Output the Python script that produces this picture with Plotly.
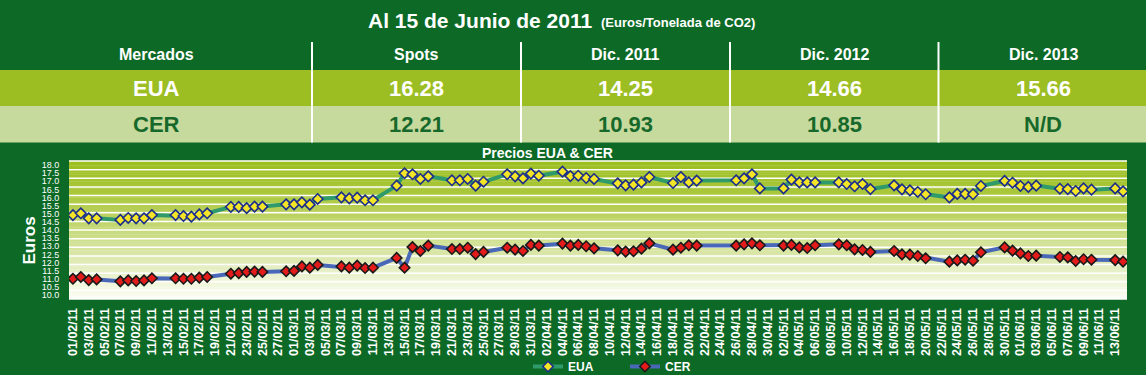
import plotly.graph_objects as go

# ---------------- data ----------------
dates = [
    "2011-02-01", "2011-02-02", "2011-02-03", "2011-02-04",
    "2011-02-07", "2011-02-08", "2011-02-09", "2011-02-10", "2011-02-11",
    "2011-02-14", "2011-02-15", "2011-02-16", "2011-02-17", "2011-02-18",
    "2011-02-21", "2011-02-22", "2011-02-23", "2011-02-24", "2011-02-25",
    "2011-02-28", "2011-03-01", "2011-03-02", "2011-03-03", "2011-03-04",
    "2011-03-07", "2011-03-08", "2011-03-09", "2011-03-10", "2011-03-11",
    "2011-03-14", "2011-03-15", "2011-03-16", "2011-03-17", "2011-03-18",
    "2011-03-21", "2011-03-22", "2011-03-23", "2011-03-24", "2011-03-25",
    "2011-03-28", "2011-03-29", "2011-03-30", "2011-03-31", "2011-04-01",
    "2011-04-04", "2011-04-05", "2011-04-06", "2011-04-07", "2011-04-08",
    "2011-04-11", "2011-04-12", "2011-04-13", "2011-04-14", "2011-04-15",
    "2011-04-18", "2011-04-19", "2011-04-20", "2011-04-21",
    "2011-04-26", "2011-04-27", "2011-04-28", "2011-04-29",
    "2011-05-02", "2011-05-03", "2011-05-04", "2011-05-05", "2011-05-06",
    "2011-05-09", "2011-05-10", "2011-05-11", "2011-05-12", "2011-05-13",
    "2011-05-16", "2011-05-17", "2011-05-18", "2011-05-19", "2011-05-20",
    "2011-05-23", "2011-05-24", "2011-05-25", "2011-05-26", "2011-05-27",
    "2011-05-30", "2011-05-31", "2011-06-01", "2011-06-02", "2011-06-03",
    "2011-06-06", "2011-06-07", "2011-06-08", "2011-06-09", "2011-06-10",
    "2011-06-13", "2011-06-14",
]

eua = [
    14.92, 15.03, 14.72, 14.72,
    14.62, 14.74, 14.72, 14.72, 14.92,
    14.92, 14.86, 14.82, 14.96, 15.03,
    15.42, 15.42, 15.35, 15.44, 15.44,
    15.58, 15.58, 15.70, 15.56, 15.91,
    16.01, 15.95, 15.99, 15.83, 15.83,
    16.73, 17.49, 17.43, 17.14, 17.30,
    17.06, 17.06, 17.14, 16.73, 16.97,
    17.43, 17.30, 17.18, 17.47, 17.34,
    17.59, 17.32, 17.34, 17.20, 17.14,
    16.87, 16.75, 16.79, 16.93, 17.26,
    16.89, 17.26, 16.93, 17.04,
    17.06, 17.18, 17.43, 16.56,
    16.56, 17.10, 16.93, 16.93, 16.93,
    16.93, 16.83, 16.69, 16.83, 16.52,
    16.75, 16.50, 16.44, 16.34, 16.20,
    16.01, 16.22, 16.22, 16.20, 16.71,
    17.02, 16.91, 16.71, 16.65, 16.73,
    16.54, 16.52, 16.40, 16.56, 16.48,
    16.56, 16.38,
]

cer = [
    11.00, 11.11, 10.92, 10.96,
    10.84, 10.90, 10.86, 10.90, 11.03,
    11.03, 11.00, 11.00, 11.07, 11.11,
    11.31, 11.35, 11.42, 11.44, 11.42,
    11.46, 11.48, 11.76, 11.68, 11.85,
    11.76, 11.68, 11.81, 11.66, 11.68,
    12.28, 11.68, 12.95, 12.71, 13.04,
    12.83, 12.83, 12.91, 12.52, 12.65,
    12.91, 12.79, 12.71, 13.08, 13.04,
    13.16, 13.04, 13.08, 13.00, 12.87,
    12.75, 12.67, 12.69, 12.85, 13.18,
    12.79, 12.91, 13.06, 13.04,
    13.04, 13.12, 13.18, 13.06,
    13.04, 13.08, 12.93, 12.89, 13.06,
    13.12, 13.06, 12.81, 12.77, 12.65,
    12.71, 12.50, 12.48, 12.40, 12.26,
    12.05, 12.13, 12.17, 12.11, 12.63,
    12.93, 12.73, 12.56, 12.40, 12.42,
    12.34, 12.32, 12.09, 12.20, 12.17,
    12.15, 12.05,
]

table_title = "Al 15 de Junio de 2011"
table_subtitle = "(Euros/Tonelada de CO2)"
table_columns = ["Mercados", "Spots", "Dic. 2011", "Dic. 2012", "Dic. 2013"]
table_eua = ["EUA", "16.28", "14.25", "14.66", "15.66"]
table_cer = ["CER", "12.21", "10.93", "10.85", "N/D"]

y_ticks = [10.0, 10.5, 11.0, 11.5, 12.0, 12.5, 13.0, 13.5, 14.0, 14.5,
           15.0, 15.5, 16.0, 16.5, 17.0, 17.5, 18.0]

# ---------------- styling ----------------
W, H = 1146, 375
PL, PR, PT, PB = 69, 1127, 161, 299          # plot area in pixels
BG = "#0C6A26"
EUA_ROW = "#9CBE22"
CER_ROW = "#C7DA9E"
CER_TXT = "#17692B"
SANS = "Liberation Sans, Arial, sans-serif"


def px2x(px):
    return (px - PL) / (PR - PL)


def py2y(py):
    return (PB - py) / (PB - PT)


fig = go.Figure()

fig.add_trace(go.Scatter(
    x=dates, y=eua, name="<b>EUA</b>", mode="lines+markers",
    line=dict(color="#2F9A6A", width=4),
    marker=dict(symbol="diamond", size=8, color="#F4E526",
                line=dict(color="#1C2D8C", width=1.6)),
))
fig.add_trace(go.Scatter(
    x=dates, y=cer, name="<b>CER</b>", mode="lines+markers",
    line=dict(color="#4A68B8", width=4),
    marker=dict(symbol="diamond", size=8, color="#E31B1B",
                line=dict(color="#1A1A1A", width=1.6)),
))

shapes = []
# gradient background of plot area
stops = [(0.0, (155, 190, 30)), (0.25, (172, 200, 62)), (0.5, (198, 217, 122)),
         (0.75, (226, 236, 187)), (1.0, (252, 253, 246))]


def grad(f):
    for (f0, c0), (f1, c1) in zip(stops[:-1], stops[1:]):
        if f0 <= f <= f1:
            t = (f - f0) / (f1 - f0)
            return "rgb(%d,%d,%d)" % tuple(round(a + (b - a) * t) for a, b in zip(c0, c1))
    return "rgb(%d,%d,%d)" % stops[-1][1]


N = 60
for i in range(N):
    y_top = 1 - i / N
    y_bot = 1 - (i + 1) / N
    shapes.append(dict(type="rect", xref="x domain", yref="y domain",
                       x0=0, x1=1, y0=y_bot, y1=y_top + 0.002,
                       fillcolor=grad((i + 0.5) / N), line=dict(width=0),
                       layer="below"))
for k in range(17):
    shapes.append(dict(type="line", xref="x domain", yref="y domain",
                       x0=0, x1=1, y0=k / 16, y1=k / 16,
                       line=dict(color="white", width=1.5), layer="below"))

# table rows
shapes.append(dict(type="rect", xref="paper", yref="paper",
                   x0=px2x(0), x1=px2x(W), y0=py2y(106), y1=py2y(70),
                   fillcolor=EUA_ROW, line=dict(width=0), layer="below"))
shapes.append(dict(type="rect", xref="paper", yref="paper",
                   x0=px2x(0), x1=px2x(W), y0=py2y(142.5), y1=py2y(106),
                   fillcolor=CER_ROW, line=dict(width=0), layer="below"))
for sx in [312, 521, 730, 938.5]:
    shapes.append(dict(type="line", xref="paper", yref="paper",
                       x0=px2x(sx), x1=px2x(sx), y0=py2y(142.5), y1=py2y(42),
                       line=dict(color="white", width=2)))

annotations = []
annotations.append(dict(text="<b>%s</b>" % table_title, xref="paper", yref="paper",
                        x=px2x(594), y=py2y(20), xanchor="right", yanchor="middle",
                        showarrow=False, font=dict(family=SANS, size=21, color="white")))
annotations.append(dict(text="<b>%s</b>" % table_subtitle, xref="paper", yref="paper",
                        x=px2x(599), y=py2y(22), xanchor="left", yanchor="middle",
                        showarrow=False, font=dict(family=SANS, size=13, color="white")))

col_centers = [156, 416, 625, 834, 1043]
for cx, head, ev, cv in zip(col_centers, table_columns, table_eua, table_cer):
    annotations.append(dict(text="<b>%s</b>" % head, xref="paper", yref="paper",
                            x=px2x(cx), y=py2y(55), xanchor="center", yanchor="middle",
                            showarrow=False, font=dict(family=SANS, size=16, color="white")))
    annotations.append(dict(text="<b>%s</b>" % ev, xref="paper", yref="paper",
                            x=px2x(cx), y=py2y(88), xanchor="center", yanchor="middle",
                            showarrow=False, font=dict(family=SANS, size=22, color="white")))
    annotations.append(dict(text="<b>%s</b>" % cv, xref="paper", yref="paper",
                            x=px2x(cx), y=py2y(124.5), xanchor="center", yanchor="middle",
                            showarrow=False, font=dict(family=SANS, size=22, color=CER_TXT)))

annotations.append(dict(text="<b>Precios EUA &amp; CER</b>", xref="paper", yref="paper",
                        x=px2x(547.5), y=py2y(153), xanchor="center", yanchor="middle",
                        showarrow=False, font=dict(family=SANS, size=14, color="white")))
annotations.append(dict(text="<b>Euros</b>", xref="paper", yref="paper",
                        x=px2x(28.5), y=py2y(241), xanchor="center", yanchor="middle",
                        textangle=-90, showarrow=False,
                        font=dict(family=SANS, size=17, color="white")))

fig.update_layout(
    width=W, height=H,
    margin=dict(l=PL, r=W - PR, t=PT, b=H - PB, pad=0, autoexpand=False),
    paper_bgcolor=BG, plot_bgcolor="#FFFFFF",
    shapes=shapes, annotations=annotations,
    showlegend=True,
    legend=dict(orientation="h", x=px2x(528), y=py2y(352), xanchor="left", yanchor="top",
                bgcolor="rgba(0,0,0,0)", borderwidth=0,
                font=dict(family=SANS, size=12, color="white"),
                entrywidth=52, entrywidthmode="pixels", itemwidth=30,
                traceorder="normal"),
    xaxis=dict(type="date", range=["2011-01-31 12:00", "2011-06-14 12:00"],
               tick0="2011-02-01", dtick=2 * 86400000, tickformat="%d/%m/%y",
               tickangle=-90, showgrid=False, zeroline=False, showline=False,
               ticks="outside", ticklen=3, tickcolor="rgba(0,0,0,0)",
               tickfont=dict(family=SANS, size=12.5, color="white", weight="bold"),
               fixedrange=True),
    yaxis=dict(range=[9.754, 18.246], tickvals=y_ticks,
               ticktext=["%.1f" % v for v in y_ticks],
               showgrid=False, zeroline=False, showline=False,
               ticks="outside", ticklen=7, tickcolor="rgba(0,0,0,0)",
               tickfont=dict(family=SANS, size=9, color="white"),
               fixedrange=True),
)

fig.write_html("out.html", config={"displayModeBar": False},
               post_script="document.body.style.margin='0';document.body.style.overflow='hidden';")
